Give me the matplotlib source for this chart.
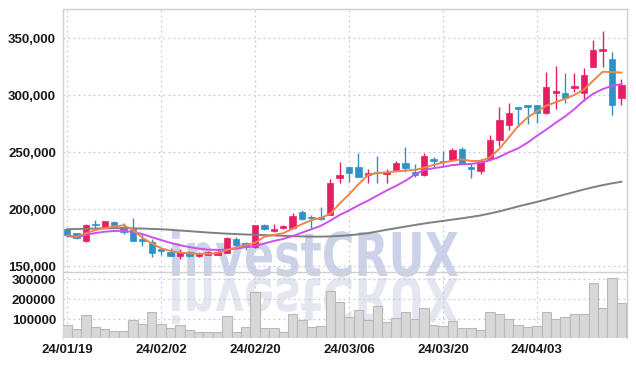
import numpy as np
import matplotlib.pyplot as plt
from matplotlib.textpath import TextPath
from matplotlib.patches import PathPatch
from matplotlib.font_manager import FontProperties
from matplotlib.transforms import Affine2D, IdentityTransform

# tick labels (every 10 trading days)
tick_idx = [0, 10, 20, 30, 40, 50]
tick_labels = ['24/01/19', '24/02/02', '24/02/20', '24/03/06', '24/03/20', '24/04/03']

# daily OHLC
opens = [182.5, 179.0, 172.5, 187.5, 184.5, 189.0, 184.8, 183.0, 173.5, 171.3,
         164.9, 162.5, 159.3, 162.3, 159.4, 160.0, 160.0, 162.0, 174.0, 170.0,
         166.7, 186.5, 180.7, 183.5, 183.5, 197.6, 193.5, 193.2, 195.0, 227.7,
         237.0, 237.0, 229.8, 233.0, 231.2, 234.5, 241.0, 233.0, 229.8, 244.0,
         242.4, 243.2, 252.9, 237.0, 234.0, 244.0, 260.5, 274.4, 289.7, 291.4,
         291.5, 284.2, 302.3, 301.8, 306.4, 302.3, 325.1, 339.0, 331.8, 298.0]
highs = [184.0, 179.5, 187.0, 190.5, 190.0, 189.5, 188.3, 192.0, 178.0, 174.0,
         165.0, 166.0, 164.9, 163.5, 162.3, 163.5, 164.0, 175.5, 176.0, 171.0,
         186.5, 187.3, 187.0, 186.3, 197.0, 199.5, 195.0, 201.7, 227.0, 241.8,
         237.5, 249.7, 235.0, 247.0, 235.4, 242.0, 254.5, 240.0, 249.0, 245.6,
         251.0, 254.0, 254.4, 240.0, 244.0, 265.0, 290.0, 293.5, 290.0, 291.5,
         291.5, 320.7, 325.7, 320.0, 320.0, 323.7, 349.0, 356.7, 337.7, 314.8]
lows = [176.0, 173.5, 171.4, 183.5, 183.5, 183.5, 178.0, 172.5, 168.0, 158.5,
        159.6, 159.0, 156.3, 158.0, 158.5, 159.5, 159.5, 161.5, 168.0, 164.5,
        166.0, 181.7, 180.0, 182.5, 183.0, 190.5, 184.0, 190.6, 195.0, 222.8,
        224.0, 228.0, 222.8, 222.8, 222.8, 233.8, 232.5, 228.5, 229.5, 237.0,
        237.0, 242.4, 239.5, 227.5, 231.0, 243.0, 255.5, 269.3, 272.0, 275.0,
        276.0, 284.0, 287.7, 293.0, 303.0, 295.3, 325.0, 325.0, 282.7, 291.5]
closes = [177.2, 174.6, 186.2, 186.0, 189.5, 184.5, 180.5, 172.5, 172.0, 162.0,
          163.7, 159.2, 162.3, 158.6, 161.2, 162.5, 162.5, 175.0, 169.0, 167.0,
          186.2, 183.0, 182.3, 185.5, 194.5, 191.5, 192.0, 191.5, 223.0, 230.0,
          232.0, 228.6, 232.0, 231.6, 233.0, 241.0, 236.5, 229.8, 247.0, 242.0,
          241.2, 252.0, 239.5, 235.0, 242.0, 260.5, 278.3, 284.4, 288.0, 289.7,
          284.2, 307.0, 304.0, 297.4, 308.2, 317.8, 339.7, 340.6, 291.5, 309.0]

# moving averages (thousand won)
ma_short = [177.2, 176.0, 179.0, 181.8, 183.5, 184.8, 186.0, 182.0, 175.0, 170.0,
            165.8, 163.5, 162.0, 161.3, 160.9, 161.0, 161.4, 164.3, 166.5, 168.5,
            170.5, 176.0, 177.5, 179.0, 183.0, 187.0, 190.5, 192.5, 196.0, 205.0,
            213.0, 222.0, 230.0, 231.8, 232.5, 233.2, 234.0, 234.5, 236.5, 239.0,
            241.0, 242.5, 243.9, 242.4, 242.5, 245.5, 253.0, 263.0, 273.0, 280.5,
            286.0, 291.0, 294.0, 297.0, 300.5, 305.0, 313.0, 320.7, 320.5, 320.0]
ma_mid = [176.6, 175.4, 177.5, 179.2, 180.3, 181.0, 181.0, 180.0, 178.3, 175.5,
          173.0, 170.5, 168.5, 166.8, 165.5, 164.6, 164.3, 164.6, 165.5, 166.8,
          167.8, 170.0, 172.2, 174.0, 176.5, 179.5, 182.5, 185.5, 190.0, 195.0,
          199.0, 203.5, 207.5, 212.0, 216.5, 220.5, 225.0, 230.5, 234.5, 236.0,
          237.3, 238.8, 239.5, 239.8, 241.0, 243.0, 246.0, 250.0, 253.5, 258.5,
          264.5, 270.0, 276.0, 281.5, 288.0, 295.5, 301.5, 305.5, 308.4, 309.9]
ma_long = [182.5, 182.7, 182.9, 183.1, 183.3, 183.4, 183.4, 183.3, 183.1, 182.8,
           182.5, 182.0, 181.4, 180.8, 180.2, 179.6, 179.1, 178.6, 178.2, 177.9,
           177.6, 177.3, 177.0, 176.7, 176.4, 176.2, 176.0, 176.0, 176.2, 176.6,
           177.2, 178.0, 179.0, 180.5, 182.0, 183.4, 184.8, 186.2, 187.5, 188.7,
           189.8, 190.9, 192.1, 193.3, 194.6, 196.3, 198.2, 200.3, 202.5, 204.5,
           206.5, 208.6, 210.8, 213.0, 215.2, 217.4, 219.4, 221.2, 222.8, 224.2]

volumes = [71500, 50000, 121000, 60000, 50000, 40000, 40000, 96000, 76000, 135000,
           76000, 55000, 70000, 45000, 35000, 35000, 35000, 115000, 35000, 60000,
           238000, 55000, 55000, 36000, 125000, 96000, 60000, 66000, 243000, 185000,
           110000, 145000, 96000, 166000, 86000, 105000, 135000, 100000, 155000, 71000,
           66000, 91000, 55000, 55000, 45000, 135000, 126000, 100000, 71000, 61000,
           66000, 135000, 100000, 110000, 126000, 126000, 281000, 155000, 305000, 181000]

opens = np.array(opens) * 1000
highs = np.array(highs) * 1000
lows = np.array(lows) * 1000
closes = np.array(closes) * 1000
x = np.arange(len(opens))

red = '#e81e63'
blue = '#2e92c6'
grid_col = '#c9cbdc'
spine_col = '#d0d0d0'
plt.rcParams['font.family'] = ['Liberation Sans', 'DejaVu Sans']
plt.rcParams['font.weight'] = 'bold'
lab_size = 9.5

fig = plt.figure(figsize=(6.36, 3.66), dpi=100)
ax = fig.add_axes([0.099, 0.257, 0.887, 0.718])
axv = fig.add_axes([0.099, 0.0765, 0.887, 0.1805], sharex=ax)

# watermark "investCRUX" and its reflection
wm_path = TextPath((0, 0), 'investCRUX', size=100,
                   prop=FontProperties(family='DejaVu Sans', weight='bold'))
ext = wm_path.get_extents()
sx = 286 / ext.width
sy = 44 / (0.729 * 100)
tr_main = Affine2D().translate(-ext.x0, 0).scale(sx, sy).translate(172, 366 - 276)
tr_refl = Affine2D().translate(-ext.x0, 0).scale(sx, -sy).translate(172, 366 - 278)
fig.patches.append(PathPatch(wm_path, transform=tr_main + IdentityTransform(),
                             facecolor='#c3cae4', edgecolor='none', alpha=0.85,
                             zorder=2, figure=fig))
fig.patches.append(PathPatch(wm_path, transform=tr_refl + IdentityTransform(),
                             facecolor='#e3e5ef', edgecolor='none', alpha=0.9,
                             zorder=0.5, figure=fig))
ax.patch.set_alpha(0)
axv.patch.set_alpha(0)
for a in (ax, axv):
    a.set_zorder(3)

# candles
up = closes >= opens
colors = np.where(up, red, blue)
body_bottom = np.minimum(opens, closes)
body_height = np.maximum(np.abs(closes - opens), 600)
ax.vlines(x, lows, highs, colors=colors, linewidth=1.0, zorder=3)
ax.bar(x, body_height, bottom=body_bottom, width=0.68, color=colors,
       edgecolor=colors, linewidth=0.5, zorder=4)

# moving averages
ax.plot(x, np.array(ma_long) * 1000, color='#808080', linewidth=1.4, zorder=5)
ax.plot(x, np.array(ma_mid) * 1000, color='#cf4fee', linewidth=1.4, zorder=5)
ax.plot(x, np.array(ma_short) * 1000, color='#f0844c', linewidth=1.4, zorder=6)

ax.set_ylim(145000, 375700)
ax.set_yticks([150000, 200000, 250000, 300000, 350000])
ax.set_yticklabels(['{:,.0f}'.format(v) for v in ax.get_yticks()])
ax.set_xlim(-0.45, 59.6)
ax.set_xticks(tick_idx)
ax.tick_params(axis='x', labelbottom=False, length=0)
ax.tick_params(axis='y', length=0, pad=5, labelsize=lab_size, labelcolor='#1a1a1a')
ax.grid(True, color=grid_col, linestyle=(0, (1.5, 2.5)), linewidth=0.9)
ax.set_axisbelow(True)

# volume
axv.bar(x, volumes, width=1.0, color='#d8d8d8', edgecolor='#b9b9b9',
        linewidth=0.8, zorder=3)
axv.set_ylim(6500, 336500)
axv.set_yticks([100000, 200000, 300000])
axv.set_yticklabels(['100000', '200000', '300000'])
axv.set_xticks(tick_idx)
axv.set_xticklabels(tick_labels)
axv.tick_params(axis='x', length=0, pad=4, labelsize=lab_size, labelcolor='#1a1a1a')
axv.tick_params(axis='y', length=0, pad=5, labelsize=lab_size, labelcolor='#1a1a1a')
axv.grid(True, color=grid_col, linestyle=(0, (1.5, 2.5)), linewidth=0.9)
axv.set_axisbelow(True)

for a in (ax, axv):
    for s in a.spines.values():
        s.set_color(spine_col)
        s.set_linewidth(1.0)
axv.spines['bottom'].set_visible(False)
axv.spines['top'].set_visible(False)

fig.savefig('out.png', dpi=100)
